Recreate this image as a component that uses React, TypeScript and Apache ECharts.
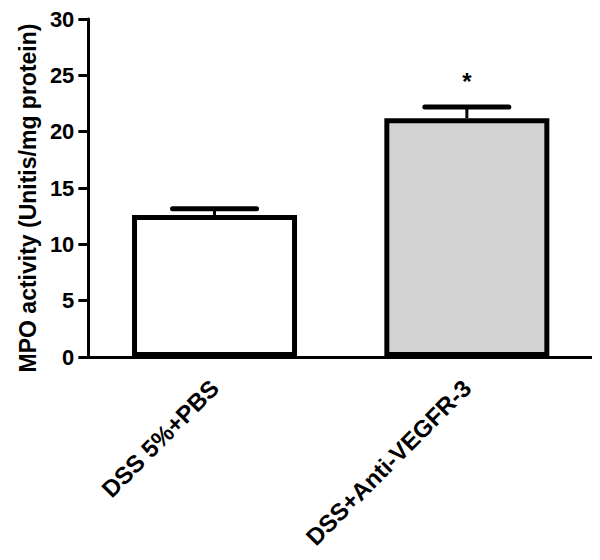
import React, { useEffect, useRef } from "react";
import * as echarts from "echarts";

const categories = ["DSS 5%+PBS", "DSS+Anti-VEGFR-3"];
const means = [12.6, 21.2];
const errors = [0.55, 1.0];
const significance = ["", "*"];
const barColors = ["#ffffff", "#d3d3d3"];
const yTicks = { min: 0, max: 30, interval: 5 };
const yName = "MPO activity (Unitis/mg protein)";

const FONT = "Liberation Sans, Arial, sans-serif";

export default function App() {
  const ref = useRef<HTMLDivElement>(null);
  useEffect(() => {
    if (!ref.current) return;
    const chart = echarts.init(ref.current, null, { renderer: "svg" });
    chart.setOption({
      animation: false,
      grid: { left: 75, right: 15, top: 8, bottom: 211, containLabel: false },
      xAxis: {
        type: "category",
        data: categories,
        boundaryGap: true,
        axisLine: { lineStyle: { color: "#000", width: 3 } },
        axisTick: { alignWithLabel: true, length: 9, lineStyle: { color: "#000", width: 3 } },
        axisLabel: {
          rotate: 45,
          margin: 27,
          color: "#000",
          fontFamily: FONT,
          fontWeight: "bold",
          fontSize: 24,
        },
      },
      yAxis: {
        type: "value",
        min: yTicks.min,
        max: yTicks.max,
        interval: yTicks.interval,
        name: yName,
        nameLocation: "middle",
        nameGap: 44,
        nameTextStyle: {
          color: "#000",
          fontFamily: FONT,
          fontWeight: "bold",
          fontSize: 23,
          padding: [0, 20, 0, 0],
        },
        splitLine: { show: false },
        axisLine: { show: true, lineStyle: { color: "#000", width: 3 } },
        axisTick: { show: true, length: 10, lineStyle: { color: "#000", width: 3 } },
        axisLabel: { color: "#000", fontFamily: FONT, fontWeight: "bold", fontSize: 22, margin: 14 },
      },
      series: [
        {
          type: "bar",
          barWidth: 165,
          data: means.map((v, i) => ({
            value: v,
            itemStyle: { color: barColors[i], borderColor: "#000", borderWidth: 5 },
          })),
        },
        {
          type: "custom",
          z: 10,
          data: categories.map((c, i) => [i, means[i], errors[i], significance[i]]),
          renderItem: (params: any, api: any) => {
            const i = api.value(0);
            const m = api.value(1);
            const e = api.value(2);
            const sig = significance[i];
            const base = api.coord([i, m]);
            const top = api.coord([i, m + e]);
            const children: any[] = [
              {
                type: "line",
                shape: { x1: base[0], y1: base[1], x2: top[0], y2: top[1] },
                style: { stroke: "#000", lineWidth: 3 },
              },
              {
                type: "line",
                shape: { x1: top[0] - 42, y1: top[1], x2: top[0] + 42, y2: top[1] },
                style: { stroke: "#000", lineWidth: 5, lineCap: "round" },
              },
            ];
            if (sig) {
              children.push({
                type: "text",
                x: top[0],
                y: top[1] - 13,
                style: {
                  text: sig,
                  fill: "#000",
                  font: `bold 24px ${FONT}`,
                  textAlign: "center",
                  textVerticalAlign: "bottom",
                },
              });
            }
            return { type: "group", children };
          },
        },
      ],
    });
    return () => chart.dispose();
  }, []);
  return <div ref={ref} style={{ width: 600, height: 560 }} />;
}
